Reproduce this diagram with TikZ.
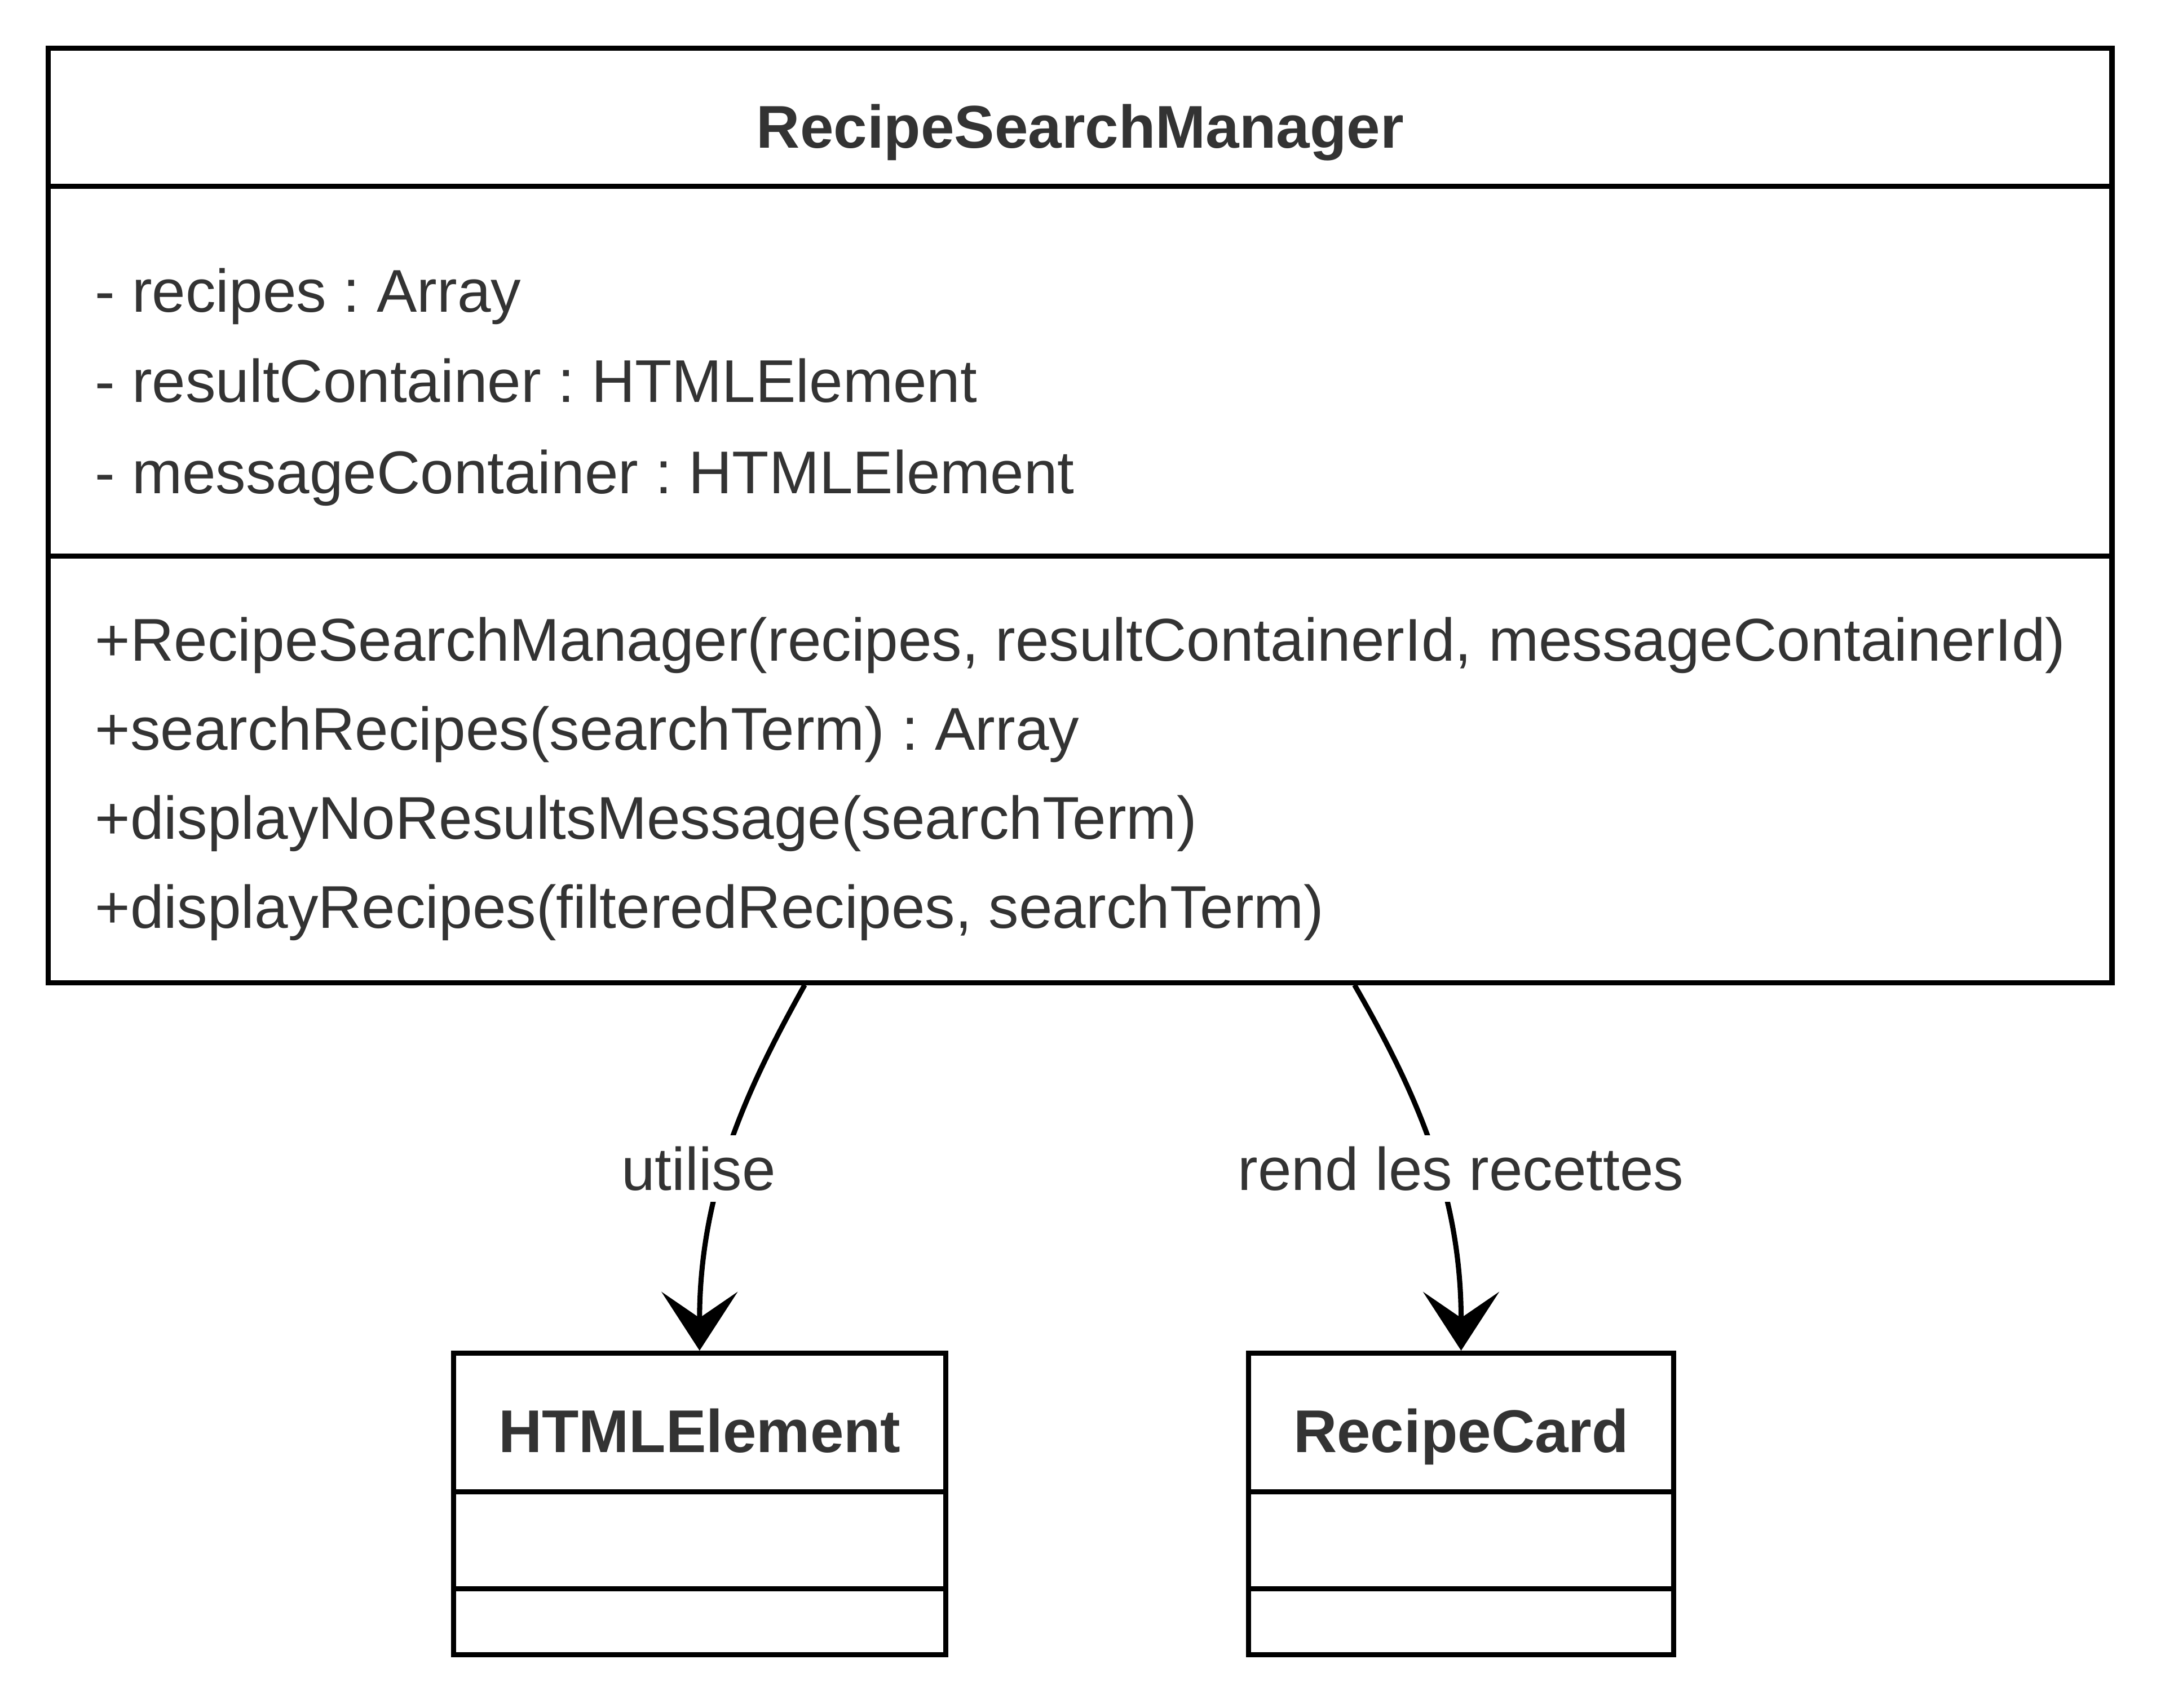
\documentclass[tikz,border=0pt]{standalone}
\usepackage{fontspec}
\setmainfont{Liberation Sans}
\usetikzlibrary{arrows.meta,calc}
\definecolor{txt}{HTML}{333333}
\frenchspacing
\begin{document}
\begin{tikzpicture}[x=1pt,y=-1pt,
  umlbox/.style={draw=black,line width=3.7pt,fill=white,inner sep=0pt},
  sepline/.style={draw=black,line width=3.7pt},
  member/.style={anchor=base west,inner sep=0pt,text=txt,font=\fontsize{43.7}{52}\selectfont\frenchspacing},
  classname/.style={anchor=base,inner sep=0pt,text=txt,font=\fontsize{43.7}{52}\selectfont\bfseries},
  rel/.style={draw=black,line width=3.7pt,-{Stealth[length=42.5pt,width=55pt,inset=18.8pt]}},
  rellabel/.style={anchor=base,fill=white,text=txt,font=\fontsize{43.7}{52}\selectfont,
    text height=31.3pt,text depth=0pt,inner ysep=8.5pt,inner xsep=2pt}]
\useasboundingbox[fill=white] (0,0) rectangle (1568,1237);

% main class
\node[umlbox,minimum width=1494.6pt,minimum height=677pt] (rsm) at (782.3,373.5) {};
\draw[sepline] (35,135) -- (1529.6,135);
\draw[sepline] (35,403) -- (1529.6,403);
\node[classname] (rsmname) at (782.3,107) {RecipeSearchManager};
\node[member] (a1) at (68.8,225.9) {- recipes : Array};
\node[member] (a2) at (68.8,291.5) {- resultContainer : HTMLElement};
\node[member] (a3) at (68.8,357.3) {- messageContainer : HTMLElement};
\node[member] (m1) at (68.8,478.8) {+RecipeSearchManager(recipes, resultContainerId, messageContainerId)};
\node[member] (m2) at (68.8,543.3) {+searchRecipes(searchTerm) : Array};
\node[member] (m3) at (68.8,607.8) {+displayNoResultsMessage(searchTerm)};
\node[member] (m4) at (68.8,672.3) {+displayRecipes(filteredRecipes, searchTerm)};

% HTMLElement
\node[umlbox,minimum width=356.5pt,minimum height=218.5pt] (hel) at (506.65,1089.45) {};
\draw[sepline] (328.4,1080.7) -- (684.9,1080.7);
\draw[sepline] (328.4,1150.9) -- (684.9,1150.9);
\node[classname] (helname) at (506.65,1052) {HTMLElement};

% RecipeCard
\node[umlbox,minimum width=308pt,minimum height=218.5pt] (rc) at (1058.2,1089.45) {};
\draw[sepline] (904.2,1080.7) -- (1212.2,1080.7);
\draw[sepline] (904.2,1150.9) -- (1212.2,1150.9);
\node[classname] (rcname) at (1058.2,1052) {RecipeCard};

% relations
\coordinate (s1) at (582.8,713.5);
\coordinate (s2) at (981,713.5);
\draw[rel] (s1) .. controls (543,785) and (506.65,860) .. (hel.north);
\draw[rel] (s2) .. controls (1022,785) and (1058.2,860) .. (rc.north);
\node[rellabel] (l1) at (506,862) {utilise};
\node[rellabel] (l2) at (1058,862) {rend les recettes};
\end{tikzpicture}
\end{document}
